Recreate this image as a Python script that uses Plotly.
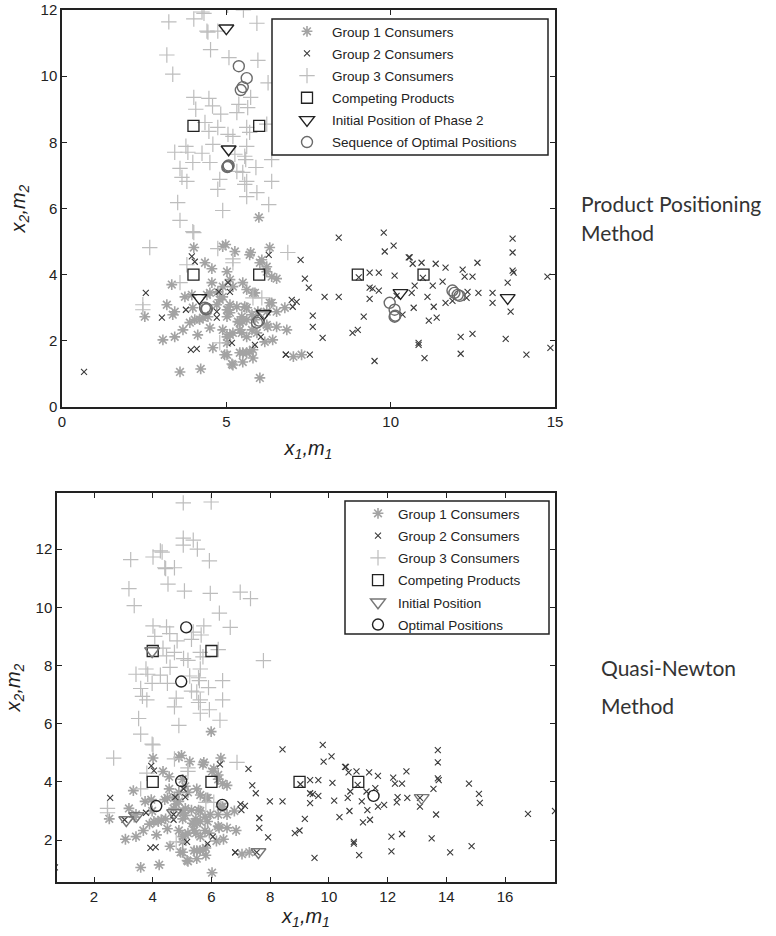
import plotly.graph_objects as go

# ---------------- data (shared consumer sample) ----------------
g1_x = [4.01,4.98,5.26,5.74,6.32,5.99,4.35,4.56,5.02,6.02,6.23,6.38,6.53,3.34,3.74,4.56,4.74,4.41,5.20,5.50,
        5.62,5.81,5.11,3.19,3.43,3.37,2.52,3.98,4.19,4.44,3.89,3.68,3.43,3.07,4.13,4.50,4.59,4.89,5.11,5.05,
        5.20,5.02,4.95,5.17,5.50,5.41,5.47,5.62,5.62,5.78,5.87,5.96,6.23,6.26,6.32,6.53,6.78,6.84,6.41,5.81,
        5.62,5.81,5.41,3.59,4.22,6.02,4.71,4.80,4.89,5.11,5.32,3.95,7.04,7.29,5.71,6.08,6.23,5.87,5.56,5.35,
        5.47,5.11,5.71,6.17,5.78,4.89,4.89,4.50,5.02,4.04,4.29,5.02,5.50,6.23,6.53,5.41,5.02,5.62,5.93,5.02,
        5.50,5.20,6.38]
g1_y = [4.82,4.91,4.70,4.67,4.82,5.73,4.36,4.18,4.09,4.36,4.09,3.94,3.88,3.70,3.33,3.76,3.48,3.39,3.64,3.76,
        3.55,3.45,3.85,3.09,2.88,2.79,2.73,3.00,2.64,2.73,2.55,2.33,2.12,2.03,2.18,2.39,1.79,2.33,2.85,2.94,
        2.24,1.94,1.58,1.30,1.36,2.55,2.73,3.00,2.64,2.33,2.64,2.88,2.88,2.42,3.15,2.88,3.00,2.33,2.03,1.73,
        1.64,1.48,1.64,1.06,1.15,0.88,3.09,3.24,3.33,3.09,3.03,3.39,1.52,1.58,4.60,4.45,4.24,3.45,3.03,2.58,
        2.24,2.18,1.67,1.97,2.79,4.85,3.64,3.45,2.94,2.64,2.70,2.73,2.58,2.48,2.42,2.33,2.12,2.12,2.24,1.58,
        1.64,1.27,3.15]

g2_x = [0.67,2.55,3.04,3.77,3.95,4.04,3.92,4.10,4.71,4.71,4.77,5.05,5.11,5.17,5.87,6.05,6.29,6.81,6.99,7.14,
        7.02,8.42,9.79,9.82,10.09,10.55,10.58,10.67,10.94,11.37,11.67,12.19,12.25,12.49,12.64,13.71,13.71,13.71,13.74,13.56,
        14.77,14.86,14.13,13.65,13.50,13.10,13.10,12.67,12.34,12.31,12.49,12.13,12.13,11.67,11.88,11.58,11.28,11.12,11.31,11.40,
        11.16,11.03,10.85,10.85,10.70,10.64,10.73,10.98,10.36,10.12,10.18,9.64,9.36,9.36,9.45,9.64,9.36,9.03,9.18,8.84,
        9.00,9.51,8.42,7.99,7.51,7.39,7.26,7.63,7.63,7.93,6.81,7.54,15.11,15.14,16.78,17.70]
g2_y = [1.06,3.45,2.70,2.94,4.55,4.39,1.73,1.76,2.88,2.70,3.48,3.76,3.48,1.94,1.88,2.12,4.60,1.58,3.24,3.18,
        3.03,5.12,5.27,4.70,4.88,4.52,4.52,4.33,4.36,4.33,4.21,4.15,3.94,3.94,4.36,5.09,4.67,4.12,4.06,3.76,
        3.94,1.79,1.58,2.88,2.06,3.45,3.15,3.45,3.48,3.30,2.21,2.12,1.61,3.15,3.21,3.79,3.67,3.33,3.03,2.70,
        2.61,1.48,1.94,1.88,3.00,3.45,3.67,3.90,2.79,3.97,3.36,4.06,4.06,3.61,3.58,3.52,3.27,3.92,2.73,2.24,
        2.33,1.39,3.33,3.33,3.61,3.88,4.45,2.76,2.42,2.09,1.58,1.58,3.59,3.28,2.90,3.00]

g3_x = [3.25,4.01,4.26,4.41,4.44,4.74,5.93,4.52,3.19,3.37,5.08,5.96,6.27,4.01,4.47,5.74,4.07,4.58,5.38,5.65,
        4.83,5.32,4.35,4.47,4.74,5.62,5.71,6.23,5.05,5.20,4.59,5.62,3.77,3.43,3.83,4.26,5.26,5.56,5.59,3.98,
        4.50,6.38,3.59,5.32,5.50,5.90,3.65,3.80,4.80,5.62,5.56,6.38,4.74,5.62,5.93,3.52,4.89,6.29,3.59,3.98,
        4.01,2.67,4.74,5.20,5.20,6.87,3.80,3.59,5.81,2.46,2.46,6.08,4.80,5.04,5.99,5.04,5.38,5.04,5.52,4.32,
        6.98,7.33,6.64,7.77]
g3_y = [11.64,11.73,11.94,11.36,11.33,11.36,11.60,10.80,10.64,10.06,10.56,10.48,9.80,9.36,9.33,9.36,9.00,9.10,9.15,9.05,
        8.85,8.90,8.60,8.33,8.45,8.45,8.30,8.55,8.24,8.18,7.94,7.88,7.88,7.70,7.70,7.67,7.64,7.58,7.48,7.39,
        7.39,7.48,7.21,7.12,7.09,7.24,6.94,6.82,6.88,6.82,6.73,6.82,6.58,6.36,6.48,6.18,5.94,6.12,5.64,5.30,
        5.27,4.82,4.79,4.48,4.36,4.67,4.30,3.76,3.30,3.09,2.94,3.30,1.94,13.59,13.62,12.38,12.31,12.14,12.00,11.90,
        10.52,10.30,9.31,8.17]

prod_x = [4, 6, 9, 11, 4, 6]
prod_y = [4, 4, 4, 4, 8.5, 8.5]

# top panel: product positioning method
pp_init_x = [5.00, 5.07, 4.18, 6.14, 10.30, 13.56]
pp_init_y = [11.45, 7.79, 3.30, 2.82, 3.45, 3.30]
pp_opt_x = [5.38, 5.62, 5.50, 5.44, 5.05, 5.07, 5.03, 4.35, 4.41, 4.38, 5.93, 5.99, 9.97, 10.12, 10.12, 10.14,
            11.88, 11.94, 12.04, 12.10]
pp_opt_y = [10.30, 9.94, 9.67, 9.58, 7.27, 7.30, 7.25, 3.00, 2.97, 2.95, 2.55, 2.61, 3.15, 2.94, 2.73, 2.76,
            3.52, 3.45, 3.39, 3.36]

# bottom panel: quasi-Newton method
qn_init_x = [3.98, 3.10, 3.44, 4.73, 7.60, 13.16]
qn_init_y = [8.50, 2.69, 2.83, 2.93, 1.59, 3.45]
qn_opt_x = [5.14, 4.97, 4.12, 4.97, 6.37, 11.52]
qn_opt_y = [9.31, 7.45, 3.17, 4.03, 3.21, 3.52]

W, H = 776, 936
def px(v): return v / W
def py(v): return 1 - v / H

G1C, G2C, G3C = "#a3a3a3", "#3a3a3a", "#bdbdbd"

fig = go.Figure()

def add_panel(xa, ya, leg, tag, init_name, opt_name, ix, iy, ox, oy, init_col, opt_col):
    common = dict(mode="markers", xaxis=xa, yaxis=ya, legend=leg)
    fig.add_trace(go.Scatter(x=g1_x, y=g1_y, name="Group 1 Consumers", legendgroup=tag + "1", **common,
                             marker=dict(symbol="asterisk-open", size=9, line=dict(color=G1C, width=1.6), color=G1C)))
    fig.add_trace(go.Scatter(x=g2_x, y=g2_y, name="Group 2 Consumers", legendgroup=tag + "2", **common,
                             marker=dict(symbol="x-thin-open", size=6, line=dict(color=G2C, width=1.1), color=G2C)))
    fig.add_trace(go.Scatter(x=g3_x, y=g3_y, name="Group 3 Consumers", legendgroup=tag + "3", **common,
                             marker=dict(symbol="cross-thin-open", size=11, line=dict(color=G3C, width=1.2), color=G3C)))
    fig.add_trace(go.Scatter(x=prod_x, y=prod_y, name="Competing Products", legendgroup=tag + "4", **common,
                             marker=dict(symbol="square-open", size=11, line=dict(color="#222", width=1.3), color="#222")))
    fig.add_trace(go.Scatter(x=ix, y=iy, name=init_name, legendgroup=tag + "5", **common,
                             marker=dict(symbol="triangle-down-open", size=13, line=dict(color=init_col, width=1.4), color=init_col)))
    fig.add_trace(go.Scatter(x=ox, y=oy, name=opt_name, legendgroup=tag + "6", **common,
                             marker=dict(symbol="circle-open", size=11, line=dict(color=opt_col, width=1.4), color=opt_col)))

add_panel("x", "y", "legend", "a", "Initial Position of Phase 2", "Sequence of Optimal Positions",
          pp_init_x, pp_init_y, pp_opt_x, pp_opt_y, "#222", "#6a6a6a")
add_panel("x2", "y2", "legend2", "b", "Initial Position", "Optimal Positions",
          qn_init_x, qn_init_y, qn_opt_x, qn_opt_y, "#777", "#222")

tickfont = dict(family="Liberation Sans, Arial", size=15, color="#222")
title_txt = "<i>x</i><sub><i>1</i></sub><i>,m</i><sub><i>1</i></sub>"
ytitle_txt = "<i>x</i><sub><i>2</i></sub><i>,m</i><sub><i>2</i></sub>"
titlefont = dict(family="Liberation Sans, Arial", size=20, color="#222")

ax_common = dict(showgrid=False, zeroline=False, showline=True, linecolor="#222", linewidth=1.5, mirror="ticks",
                 ticks="inside", ticklen=5, tickcolor="#222", tickfont=tickfont, title_font=titlefont,
                 automargin=False, ticklabeloverflow="allow")

legfont = dict(family="Liberation Sans, Arial", size=13.5, color="#222")

fig.update_layout(
    template="none",
    width=W, height=H, margin=dict(l=0, r=0, t=0, b=0, autoexpand=False),
    paper_bgcolor="white", plot_bgcolor="white",
    xaxis=dict(domain=[px(62), px(555)], range=[0, 15], tickvals=[0, 5, 10, 15], anchor="y",
               title=dict(text=title_txt, standoff=12), **ax_common),
    yaxis=dict(domain=[py(407), py(10)], range=[0, 12], tickvals=[0, 2, 4, 6, 8, 10, 12], anchor="x",
               title=dict(text=ytitle_txt, standoff=10), **ax_common),
    xaxis2=dict(domain=[px(57), px(555)], range=[0.74, 17.7], tickvals=[2, 4, 6, 8, 10, 12, 14, 16], anchor="y2",
                title=dict(text=title_txt, standoff=4), **ax_common),
    yaxis2=dict(domain=[py(882), py(493)], range=[0.56, 13.93], tickvals=[2, 4, 6, 8, 10, 12], anchor="x2",
                title=dict(text=ytitle_txt, standoff=10), **ax_common),
    legend=dict(x=px(282), y=py(16), xanchor="left", yanchor="top", bgcolor="rgba(0,0,0,0)", borderwidth=0,
                font=legfont, itemwidth=40, tracegroupgap=1.6, traceorder="grouped"),
    legend2=dict(x=px(358), y=py(498), xanchor="left", yanchor="top", bgcolor="rgba(0,0,0,0)", borderwidth=0,
                 font=legfont, itemwidth=30, tracegroupgap=1.7, traceorder="grouped"),
    shapes=[
        dict(type="rect", xref="paper", yref="paper", x0=px(272), x1=px(548), y0=py(155), y1=py(19),
             fillcolor="white", line=dict(color="#222", width=1.5), layer="above"),
        dict(type="rect", xref="paper", yref="paper", x0=px(345), x1=px(549), y0=py(634), y1=py(501),
             fillcolor="white", line=dict(color="#222", width=1.5), layer="above"),
    ],
    annotations=[
        dict(text="Product Positioning", x=px(579), y=py(203), xref="paper", yref="paper", xanchor="left",
             yanchor="middle", showarrow=False, font=dict(family="Lato", size=21, color="#333")),
        dict(text="Method", x=px(579), y=py(232), xref="paper", yref="paper", xanchor="left",
             yanchor="middle", showarrow=False, font=dict(family="Lato", size=21, color="#333")),
        dict(text="Quasi-Newton", x=px(599), y=py(667), xref="paper", yref="paper", xanchor="left",
             yanchor="middle", showarrow=False, font=dict(family="Lato", size=21, color="#333")),
        dict(text="Method", x=px(599), y=py(705), xref="paper", yref="paper", xanchor="left",
             yanchor="middle", showarrow=False, font=dict(family="Lato", size=21, color="#333")),
    ],
)

# remove the default page margin so the 776x936 figure fills the window exactly
fig.write_html("out.html", config={"displayModeBar": False},
               post_script="document.body.style.margin='0px';")
